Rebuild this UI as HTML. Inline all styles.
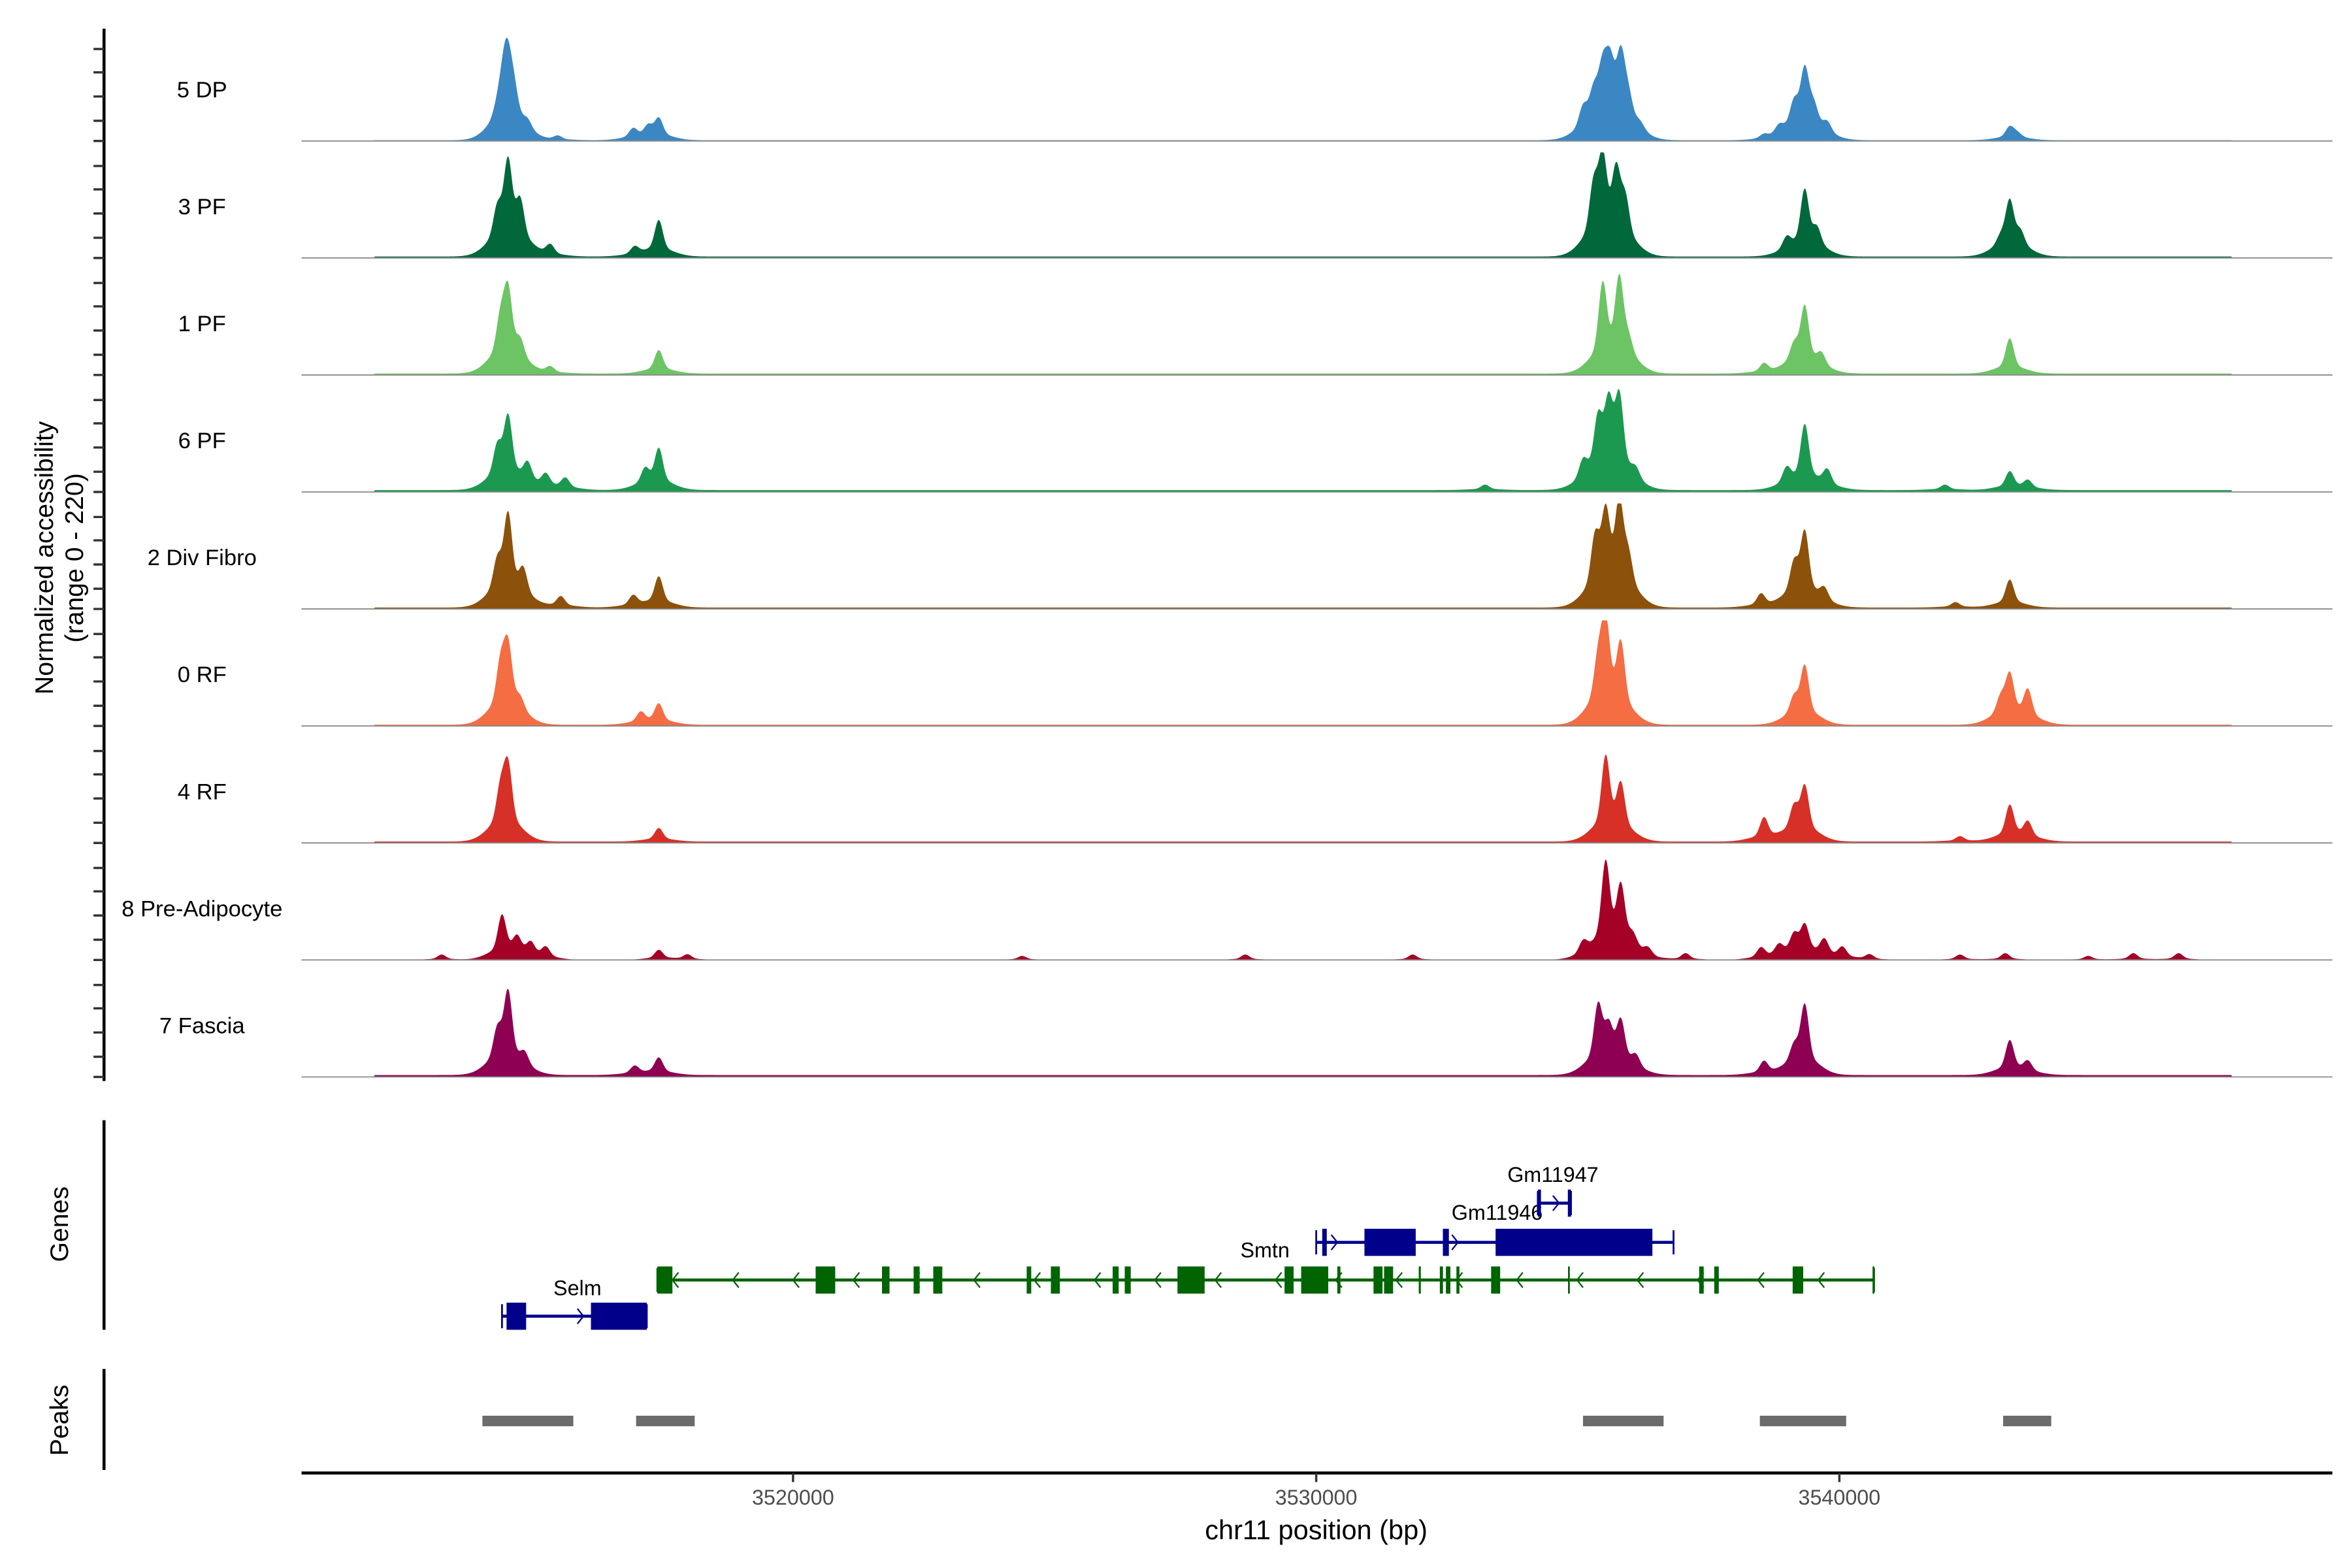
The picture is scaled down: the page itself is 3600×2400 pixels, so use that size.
<!DOCTYPE html>
<html><head><meta charset="utf-8"><style>
html,body{margin:0;padding:0;background:#fff;}
svg{display:block;font-family:"Liberation Sans",Arial,sans-serif;}
</style></head><body>
<svg id="chart" width="3600" height="2400" viewBox="0 0 1560 1040" preserveAspectRatio="none" xmlns="http://www.w3.org/2000/svg">
<rect x="0" y="0" width="1560" height="1040" fill="#fff"/>
<g id="tracks"></g>
<g id="genes"></g>
<g id="peaks"></g>
<g id="axes"></g>
<text transform="translate(35,370) rotate(-90)" text-anchor="middle" font-size="17" fill="#000">Normalized accessibility</text>
<text transform="translate(55,370) rotate(-90)" text-anchor="middle" font-size="17" fill="#000">(range 0 - 220)</text>
<text transform="translate(45,812) rotate(-90)" text-anchor="middle" font-size="17" fill="#000">Genes</text>
<text transform="translate(45,942) rotate(-90)" text-anchor="middle" font-size="17" fill="#000">Peaks</text>
<text x="873" y="1021" text-anchor="middle" font-size="18" fill="#000">chr11 position (bp)</text>
</svg>
<script>
// ---------- data ----------
const trackNames = ["5 DP","3 PF","1 PF","6 PF","2 Div Fibro","0 RF","4 RF","8 Pre-Adipocyte","7 Fascia"];
const trackColors = ["#3A87C4","#00683A","#6CC464","#1C9950","#8C510A","#F46D43","#D73027","#A50026","#8E0152"];
const bgLevels = [1.5,3,3,4,3,2.5,3,0,4];
const pos0 = [3514351,3514466,3514552,3514668,3514927,3515504,3516944,3517233,3517434,3535101,3535303,3535476,3535620,3535822,3535966,3536196,3538559,3538848,3539136,3539338,3539510,3539770,3543257,3543401];
const val0 = [35,95,125,70,20,10,22,25,45,50,70,115,120,150,60,15,10,20,60,140,50,25,28,12];
const pos1 = [3514351,3514552,3514783,3515359,3516973,3517434,3535303,3535476,3535735,3535908,3538992,3539338,3539568,3543084,3543257,3543459];
const val1 = [78,190,95,25,19,80,125,180,150,95,30,140,45,25,115,38];
const pos2 = [3514408,3514552,3514783,3515359,3517434,3535476,3535793,3535966,3538559,3539136,3539338,3539655,3543257];
const val2 = [95,165,45,15,52,180,188,45,22,45,140,30,78];
const pos3 = [3514351,3514552,3514927,3515273,3515648,3517175,3517434,3533228,3535101,3535389,3535591,3535793,3536110,3538992,3539338,3539770,3542018,3543257,3543603];
const val3 = [78,150,45,30,25,38,88,12,45,125,155,178,25,38,140,38,12,40,19];
const pos4 = [3514351,3514552,3514841,3515561,3516944,3517434,3535332,3535533,3535793,3535966,3538502,3539136,3539338,3539712,3542220,3543257];
const val4 = [78,190,62,25,25,68,125,170,195,78,30,78,155,30,12,62];
const pos5 = [3514408,3514552,3514783,3517089,3517434,3535389,3535533,3535822,3539136,3539338,3543084,3543257,3543603];
const val5 = [110,155,30,25,45,110,195,155,45,125,45,100,68];
const pos6 = [3514408,3514552,3517434,3535533,3535822,3538559,3539136,3539338,3542306,3543257,3543603];
const val6 = [95,155,30,178,110,52,62,115,12,78,38];
const pos7 = [3513284,3514437,3514725,3514985,3515273,3517434,3517982,3524380,3528645,3531844,3535101,3535533,3535822,3536052,3536340,3537061,3538502,3538848,3539136,3539338,3539712,3540058,3540577,3542306,3543171,3544756,3545620,3546485];
const val7 = [12,95,38,30,25,22,12,9,12,12,30,200,140,30,19,15,25,25,45,68,38,25,12,12,15,9,15,15];
const pos8 = [3514351,3514552,3514869,3516973,3517434,3535389,3535591,3535822,3536110,3538559,3539136,3539338,3543257,3543603];
const val8 = [78,172,30,19,38,140,78,100,30,30,45,150,75,25];
const trackPos = [pos0,pos1,pos2,pos3,pos4,pos5,pos6,pos7,pos8];
const trackVal = [val0,val1,val2,val3,val4,val5,val6,val7,val8];

const xTicks = [3520000,3530000,3540000];
const xTickLabels = ["3520000","3530000","3540000"];

const peakStarts = [3514062,3517000,3535100,3538480,3543130];
const peakEnds = [3515800,3518120,3536640,3540130,3544050];

const smtnGreenExonStarts = [3517406,3520432,3521700,3522305,3522680,3524466,3524928,3526109,3526340,3527348,3529395,3529712,3530403,3531095,3531297,3531960,3532363,3532479,3532680,3533343,3534813,3537320,3537608,3539107,3540634];
const smtnGreenExonEnds   = [3517694,3520806,3521844,3522420,3522853,3524553,3525100,3526224,3526455,3527867,3529568,3530230,3530463,3531268,3531470,3532000,3532423,3532565,3532738,3533516,3534833,3537407,3537695,3539309,3540663];
const selmExonStarts = [3514524,3516137];
const selmExonEnds = [3514898,3517204];
const smtnExonStarts = [3530115,3530922,3532421,3533429];
const smtnExonEnds = [3530202,3531902,3532536,3536426];

// ---------- scales ----------
const X0 = 200, X1 = 1547, BP0 = 3510605, BP1 = 3549424;
function xs(bp){ return X0 + (bp-BP0)/(BP1-BP0)*(X1-X0); }
const baseTop = 93.5, trackStep = 77.6, trackH = 70, YMAX = 220;
function ys(v, i){ return baseTop + i*trackStep - Math.min(v,YMAX)/YMAX*trackH; }

const NS = "http://www.w3.org/2000/svg";
function mk(tag, attrs, parent){
  const e = document.createElementNS(NS, tag);
  for (const k in attrs) e.setAttribute(k, attrs[k]);
  parent.appendChild(e); return e;
}

// ---------- tracks ----------
const gT = document.getElementById("tracks");
trackNames.forEach((name, i) => {
  const pos = trackPos[i], val = trackVal[i];
  const base = baseTop + i*trackStep;
  let d = "M" + X0 + "," + base;
  for (let px = X0; px <= X1; px += 0.5) {
    const bp = BP0 + (px-X0)/(X1-X0)*(BP1-BP0);
    let v = (bp > 3512000 && bp < 3547500) ? bgLevels[i] : 0;
    for (let k = 0; k < pos.length; k++) {
      const dx = (bp - pos[k]) / 75;
      const dw = (bp - pos[k]) / 280;
      v += val[k] * (0.72*Math.exp(-0.5*dx*dx) + 0.22*Math.exp(-0.5*dw*dw));
    }
    d += "L" + px.toFixed(1) + "," + ys(v, i).toFixed(2);
  }
  d += "L" + X1 + "," + base + "Z";
  const p = mk("path", {d: d, fill: trackColors[i], stroke: "none"}, gT);
  
  
  const bl = mk("line", {x1: X0, x2: X1, y1: base, y2: base, stroke: "#8a8a8a", "stroke-width": 0.8}, gT);
  
  
  const t = mk("text", {x: 134, y: base - 29, "text-anchor": "middle", "font-size": 15, fill: "#000"}, gT);
  t.textContent = name;
  
  
});

// ---------- axes ----------
const gA = document.getElementById("axes");
function line(x1,y1,x2,y2,w,c,name,parent){
  const l = mk("line",{x1:x1,y1:y1,x2:x2,y2:y2,stroke:c||"#000","stroke-width":w||1.5},parent||gA);
  
  
  return l;
}
line(69,19,69,717,2,"#000","y-axis-line");
for (let i = 0; i < trackNames.length; i++) {
  const base = baseTop + i*trackStep;
  [0,13.4,29.5,45.5,61].forEach(o => line(62, base-o, 69, base-o, 1.5, "#333", "y-tick"));
}
line(69,743,69,882,2,"#000","genes-axis-line");
line(69,908,69,975,2,"#000","peaks-axis-line");
line(200,977,1547,977,2,"#000","x-axis-line");
xTicks.forEach((t,k) => {
  line(xs(t),977,xs(t),983,1.5,"#333","x-tick");
  const tx = mk("text",{x:xs(t),y:998,"text-anchor":"middle","font-size":14,fill:"#4d4d4d"},gA);
  tx.textContent = xTickLabels[k];
  
  
});

// ---------- peaks ----------
const gP = document.getElementById("peaks");
peakStarts.forEach((s,k) => {
  const r = mk("rect",{x:xs(s),y:939,width:xs(peakEnds[k])-xs(s),height:7,fill:"#6b6b6b"},gP);
  
  
});

// ---------- genes ----------
const gG = document.getElementById("genes");
function gene(name, start, end, y, col, exS, exE, strand, label, lx, ly){
  const g = mk("g",{},gG);
  
  
  mk("line",{x1:xs(start),x2:xs(end),y1:y,y2:y,stroke:col,"stroke-width":2},g);
  for (let px = xs(start)+12; px < xs(end)-6; px += 40) {
    const dd = strand > 0 ? `M${px-2},${y-5}L${px+2},${y}L${px-2},${y+5}` : `M${px+2},${y-5}L${px-2},${y}L${px+2},${y+5}`;
    mk("path",{d:dd,fill:"none",stroke:col,"stroke-width":1},g);
  }
  [start,end].forEach(b => mk("line",{x1:xs(b),x2:xs(b),y1:y-8,y2:y+8,stroke:col,"stroke-width":1.2},g));
  exS.forEach((s,k) => {
    const w = Math.max(xs(exE[k])-xs(s),1.2);
    mk("rect",{x:xs(s),y:y-9,width:w,height:18,fill:col},g);
  });
  if (label) {
    const t = mk("text",{x:lx,y:ly,"text-anchor":"middle","font-size":14,fill:"#000"},g);
    t.textContent = label;
  }
}
gene("selm",3514437,3517204,873,"#00008B",selmExonStarts,selmExonEnds,1,"Selm",383,859);
gene("smtn-antisense",3517406,3540663,849,"#006400",smtnGreenExonStarts,smtnGreenExonEnds,-1,"",0,0);
gene("smtn",3530000,3536830,824,"#00008B",smtnExonStarts,smtnExonEnds,1,"Smtn",839,834);
(function(){
  const t = mk("text",{x:993,y:809,"text-anchor":"middle","font-size":14,fill:"#000"},gG);
  t.textContent = "Gm11946";
  
  
})();
gene("gm11947",3534236,3534870,798,"#00008B",[3534236,3534810],[3534296,3534870],1,"Gm11947",1030,784);
</script>
</body></html>
